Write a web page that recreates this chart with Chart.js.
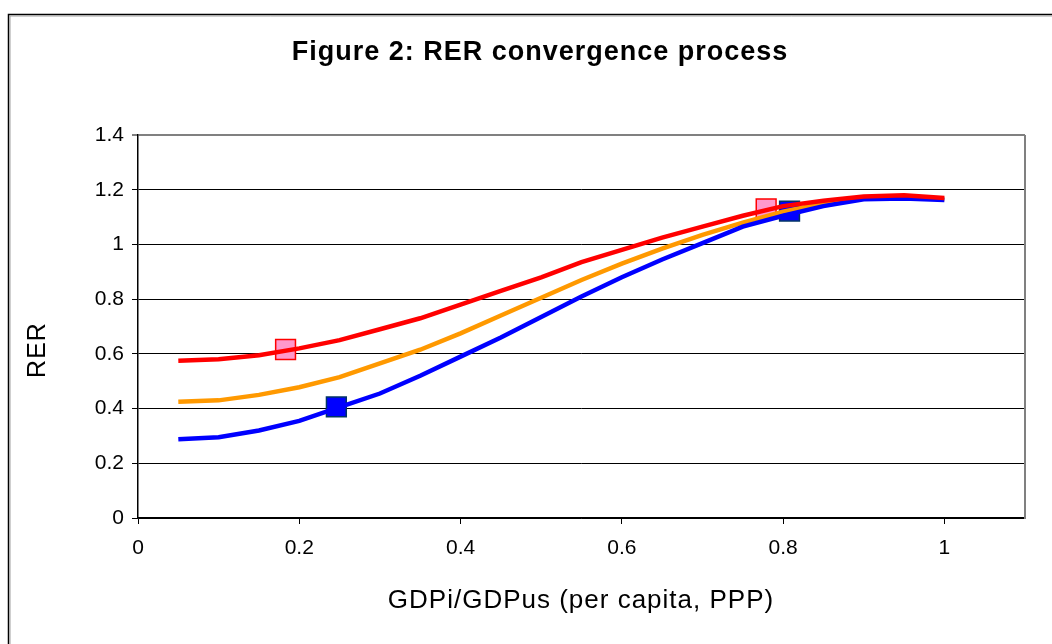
<!DOCTYPE html>
<html>
<head>
<meta charset="utf-8">
<script src="https://cdn.jsdelivr.net/npm/chart.js@4.4.1/dist/chart.umd.min.js"></script>
<style>
  html, body { margin: 0; padding: 0; background: #ffffff; }
  canvas { display: block; }
</style>
</head>
<body>
<canvas id="c" width="1052" height="644"></canvas>
<script>
// ---- data ----
const xValues = [0.05, 0.10, 0.15, 0.20, 0.25, 0.30, 0.35, 0.40, 0.45, 0.50,
                 0.55, 0.60, 0.65, 0.70, 0.75, 0.80, 0.85, 0.90, 0.95, 1.00];
const redSeries = [0.575, 0.58, 0.595, 0.62, 0.65, 0.69, 0.73, 0.78, 0.83, 0.88,
                   0.935, 0.98, 1.025, 1.065, 1.105, 1.14, 1.16, 1.175, 1.18, 1.17];
const orangeSeries = [0.425, 0.43, 0.45, 0.478, 0.515, 0.565, 0.615, 0.675, 0.74, 0.805,
                      0.87, 0.93, 0.985, 1.035, 1.08, 1.12, 1.15, 1.168, 1.172, 1.165];
const blueSeries = [0.288, 0.295, 0.32, 0.355, 0.405, 0.455, 0.52, 0.59, 0.66, 0.735,
                    0.81, 0.88, 0.945, 1.005, 1.065, 1.105, 1.14, 1.165, 1.168, 1.162];
const pinkMarkersX = [0.183, 0.779];
const pinkMarkersY = [0.616, 1.13];
const blueMarkersX = [0.246, 0.808];
const blueMarkersY = [0.406, 1.122];
const xTicks = [0, 0.2, 0.4, 0.6, 0.8, 1];
const yTicks = [0, 0.2, 0.4, 0.6, 0.8, 1, 1.2, 1.4];
const titleText = 'Figure 2: RER convergence process';
const xTitle = 'GDPi/GDPus (per capita, PPP)';
const yTitle = 'RER';

const pts = (xs, ys) => xs.map((x, i) => ({ x: x, y: ys[i] }));
const fmt = v => String(+(+v).toFixed(1));
const FONT = '"Liberation Sans", Arial, sans-serif';

const decor = {
  id: 'decor',
  beforeDraw(chart) {
    const ctx = chart.ctx;
    ctx.save();
    ctx.fillStyle = '#fff';
    ctx.fillRect(0, 0, chart.width, chart.height);
    // outer frame (left and top only visible)
    ctx.strokeStyle = '#000';
    ctx.lineWidth = 1.5;
    ctx.beginPath();
    ctx.moveTo(8.5, chart.height);
    ctx.lineTo(8.5, 14.5);
    ctx.lineTo(chart.width, 14.5);
    ctx.stroke();
    ctx.strokeStyle = '#a0a0a0';
    ctx.lineWidth = 1;
    ctx.beginPath();
    ctx.moveTo(10, chart.height);
    ctx.lineTo(10, 16);
    ctx.lineTo(chart.width, 16);
    ctx.stroke();
    ctx.restore();
  },
  afterDraw(chart) {
    const ctx = chart.ctx;
    const a = chart.chartArea;
    ctx.save();
    // right plot border
    ctx.strokeStyle = '#808080';
    ctx.lineWidth = 2;
    ctx.beginPath();
    ctx.moveTo(a.right, a.top);
    ctx.lineTo(a.right, a.bottom + 1);
    ctx.stroke();
    // texts
    ctx.fillStyle = '#000';
    ctx.textAlign = 'center';
    ctx.textBaseline = 'middle';
    ctx.font = 'bold 27px ' + FONT;
    ctx.letterSpacing = '1px';
    ctx.fillText(titleText, 540, 53);
    ctx.font = '26px ' + FONT;
    ctx.letterSpacing = '1px';
    ctx.fillText(xTitle, 581, 601);
    ctx.font = '25px ' + FONT;
    ctx.letterSpacing = '1px';
    ctx.translate(38, 350);
    ctx.rotate(-Math.PI / 2);
    ctx.fillText(yTitle, 0, 0);
    ctx.restore();
  }
};

new Chart(document.getElementById('c'), {
  type: 'scatter',
  data: {
    datasets: [
      { label: 'pink', data: pts(pinkMarkersX, pinkMarkersY), showLine: false,
        pointStyle: 'rect', pointRadius: 14, pointHoverRadius: 14,
        backgroundColor: '#FF99CC', borderColor: '#FF0000', pointBorderWidth: 1.5, order: 5 },
      { label: 'bluemk', data: pts(blueMarkersX, blueMarkersY), showLine: false,
        pointStyle: 'rect', pointRadius: 14, pointHoverRadius: 14,
        backgroundColor: '#0000FF', borderColor: '#003366', pointBorderWidth: 1.5, order: 4 },
      { label: 'orange', data: pts(xValues, orangeSeries), showLine: true, pointRadius: 0,
        borderColor: '#FF9900', borderWidth: 4.5, tension: 0, order: 3 },
      { label: 'blue', data: pts(xValues, blueSeries), showLine: true, pointRadius: 0,
        borderColor: '#0000FF', borderWidth: 4.5, tension: 0, order: 2 },
      { label: 'red', data: pts(xValues, redSeries), showLine: true, pointRadius: 0,
        borderColor: '#FF0000', borderWidth: 4.5, tension: 0, order: 1 }
    ]
  },
  options: {
    responsive: false,
    animation: false,
    devicePixelRatio: 1,
    layout: { padding: { top: 135, right: 27, left: 0, bottom: 0 } },
    plugins: { legend: { display: false }, title: { display: false }, tooltip: { enabled: false } },
    scales: {
      x: {
        type: 'linear', min: 0, max: 1.1,
        afterBuildTicks: s => { s.ticks = xTicks.map(v => ({ value: v })); },
        afterFit: s => { s.height = 126; },
        ticks: { callback: fmt, color: '#000', padding: 12, maxRotation: 0,
                 font: { family: FONT, size: 21 } },
        grid: { drawOnChartArea: false, drawTicks: true, tickLength: 6, color: '#000' },
        border: { display: true, color: '#000', width: 1.5 }
      },
      y: {
        type: 'linear', min: 0, max: 1.4,
        afterBuildTicks: s => { s.ticks = yTicks.map(v => ({ value: v })); },
        afterFit: s => { s.width = 138; },
        ticks: { callback: fmt, color: '#000', padding: 8,
                 font: { family: FONT, size: 21 } },
        grid: { drawTicks: true, tickLength: 6,
                color: c => (c.tick && c.tick.value >= 1.39 ? '#808080' : '#000'),
                lineWidth: c => (c.tick && c.tick.value >= 1.39 ? 2 : 1) },
        border: { display: true, color: '#000', width: 1.5 }
      }
    }
  },
  plugins: [decor]
});
</script>
</body>
</html>
